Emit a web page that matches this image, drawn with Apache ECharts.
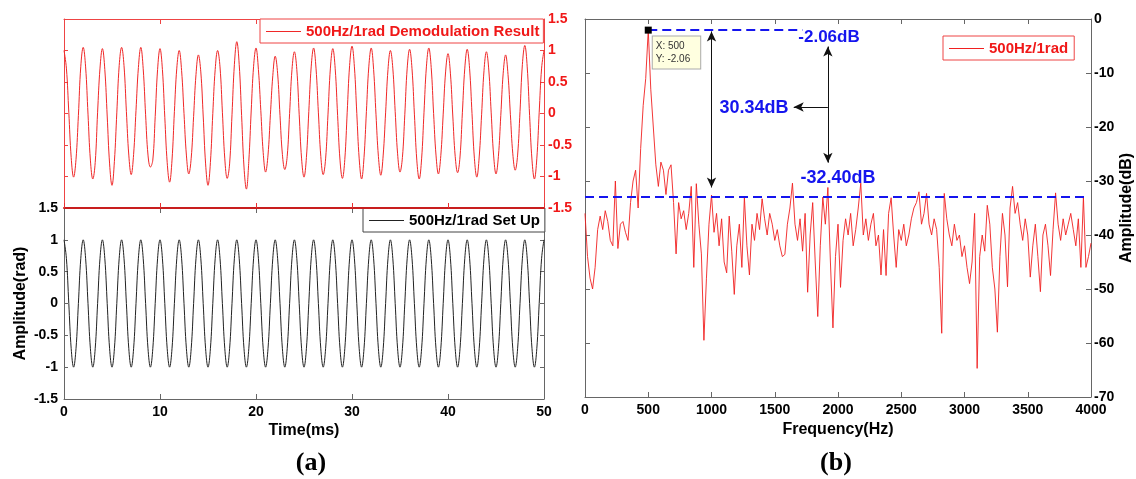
<!DOCTYPE html>
<html>
<head>
<meta charset="utf-8">
<script src="https://cdn.jsdelivr.net/npm/echarts/dist/echarts.min.js"></script>
<style>html,body{margin:0;padding:0;background:#fff}#c{width:1136px;height:479px}</style>
</head>
<body>
<div id="c"></div>
<script>
// ---- data ----
const TIME_STEP = 0.25; // ms between samples
const FREQ_STEP = 20;   // Hz between spectrum bins

// Demodulation result (rad), sampled every 0.25 ms, 0..50 ms
const demodulated = [
 1.00, 0.72, 0.02,-0.70,-1.01,-0.73,-0.03, 0.75,
 1.05, 0.74,-0.01,-0.74,-1.04,-0.78, 0.02, 0.72,
 1.03, 0.70,-0.04,-0.80,-1.14,-0.76, 0.01, 0.76,
 1.05, 0.76, 0.03,-0.66,-0.97,-0.65, 0.05, 0.73,
 1.05, 0.71,-0.02,-0.66,-0.85,-0.74,-0.05, 0.70,
 1.03, 0.70,-0.06,-0.78,-1.09,-0.74, 0.03, 0.72,
 1.00, 0.68, 0.00,-0.66,-0.96,-0.71,-0.05, 0.62,
 0.93, 0.66,-0.04,-0.80,-1.14,-0.78, 0.00, 0.70,
 1.00, 0.74, 0.02,-0.72,-1.03,-0.80,-0.02, 0.78,
 1.14, 0.78,-0.03,-0.85,-1.20,-0.76, 0.04, 0.75,
 1.04, 0.70, 0.05,-0.62,-0.93,-0.66,-0.02, 0.60,
 0.91, 0.64,-0.03,-0.65,-0.89,-0.68, 0.00, 0.70,
 0.98, 0.70,-0.02,-0.72,-1.01,-0.70, 0.03, 0.74,
 1.04, 0.72, 0.01,-0.68,-0.97,-0.72,-0.01, 0.72,
 1.03, 0.71,-0.03,-0.74,-1.03,-0.73, 0.02, 0.76,
 1.07, 0.74, 0.00,-0.72,-1.04,-0.70, 0.03, 0.74,
 1.04, 0.70,-0.02,-0.68,-0.98,-0.66, 0.01, 0.70,
 1.00, 0.72, 0.03,-0.64,-0.93,-0.70,-0.02, 0.72,
 1.02, 0.71,-0.01,-0.74,-1.04,-0.72, 0.02, 0.74,
 1.04, 0.73, 0.00,-0.66,-0.96,-0.67,-0.01, 0.66,
 0.95, 0.64,-0.04,-0.68,-0.94,-0.69, 0.02, 0.72,
 1.02, 0.71, 0.00,-0.71,-1.01,-0.69,-0.02, 0.68,
 0.98, 0.69, 0.01,-0.66,-0.96,-0.68,-0.03, 0.64,
 0.93, 0.62,-0.02,-0.64,-0.90,-0.66, 0.03, 0.78,
 1.08, 0.74,-0.03,-0.74,-1.04,-0.72, 0.02, 0.72,
 1.00
];

// Set-up signal (rad), sampled every 0.25 ms, 0..50 ms
const setUp = [
 1,0.71,0,-0.71,-1,-0.71,0,0.71, 1,0.71,0,-0.71,-1,-0.71,0,0.71,
 1,0.71,0,-0.71,-1,-0.71,0,0.71, 1,0.71,0,-0.71,-1,-0.71,0,0.71,
 1,0.71,0,-0.71,-1,-0.71,0,0.71, 1,0.71,0,-0.71,-1,-0.71,0,0.71,
 1,0.71,0,-0.71,-1,-0.71,0,0.71, 1,0.71,0,-0.71,-1,-0.71,0,0.71,
 1,0.71,0,-0.71,-1,-0.71,0,0.71, 1,0.71,0,-0.71,-1,-0.71,0,0.71,
 1,0.71,0,-0.71,-1,-0.71,0,0.71, 1,0.71,0,-0.71,-1,-0.71,0,0.71,
 1,0.71,0,-0.71,-1,-0.71,0,0.71, 1,0.71,0,-0.71,-1,-0.71,0,0.71,
 1,0.71,0,-0.71,-1,-0.71,0,0.71, 1,0.71,0,-0.71,-1,-0.71,0,0.71,
 1,0.71,0,-0.71,-1,-0.71,0,0.71, 1,0.71,0,-0.71,-1,-0.71,0,0.71,
 1,0.71,0,-0.71,-1,-0.71,0,0.71, 1,0.71,0,-0.71,-1,-0.71,0,0.71,
 1,0.71,0,-0.71,-1,-0.71,0,0.71, 1,0.71,0,-0.71,-1,-0.71,0,0.71,
 1,0.71,0,-0.71,-1,-0.71,0,0.71, 1,0.71,0,-0.71,-1,-0.71,0,0.71,
 1,0.71,0,-0.71,-1,-0.71,0,0.71,
 1
];

// Spectrum amplitude (dB), every 20 Hz, 0..4000 Hz
const spectrum = [
 -36,-44,-48,-50,-46,-39,-36.5,-39,-35.5,-37.5,
 -41,-42,-30,-42.5,-38,-37.5,-39.5,-41,-34,-30,
 -28,-35,-24,-16,-11,-2.06,-13,-20,-27,-31,
 -26.5,-28,-32.5,-28,-27,-34,-43.5,-34,-37,-35.5,
 -39,-36,-31,-46,-30.5,-38,-43.5,-59.5,-48,-38,
 -32.6,-39.5,-36,-42,-37,-45,-47,-36.5,-43,-51,
 -42,-38,-46,-33,-42,-47.4,-38,-41,-36,-39,
 -33.3,-37,-40,-36,-38,-41,-39,-42,-44,-43.6,
 -38,-35,-30.4,-38,-41,-37,-43,-36,-50.6,-40,
 -34,-45,-55.1,-42,-33,-38,-31.2,-45,-57.2,-44,
 -38,-49.7,-41,-37,-40,-36,-42,-39,-35,-30.4,
 -40,-37,-41,-38,-36,-42,-40,-47.4,-39,-47.5,
 -36,-33.1,-40,-46,-39,-41,-38,-42,-40,-37,
 -35,-34,-32,-38,-36,-32.3,-38,-40,-37,-39,
 -46,-58.2,-32.3,-37,-40,-42,-38,-41,-40,-44,
 -42,-46,-49,-45,-36,-64.7,-44,-40,-43,-34.5,
 -38,-46,-50,-58,-44,-36,-40,-49.6,-35,-31,
 -36,-34,-38,-41,-37,-40,-47.8,-42,-38,-44,
 -50.5,-40,-38,-42,-47.5,-39,-32.2,-38,-41,-37,
 -40,-38,-36,-39,-42,-37,-46,-33,-46,-44,
 -41.5
];

// annotations
const peakPoint = [500, -2.06];
const peakLevel = -2.06;
const noiseLevel = -32.9;
const peakLabel = '-2.06dB';
const noiseLabel = '-32.40dB';
const diffLabel = '30.34dB';

// ---- chart ----
const FONT = 'Liberation Sans';
const RED = '#f01818';
const AX = '#666';
const plain = (v) => String(v);
const lbl = (c, m) => ({fontFamily: FONT, fontWeight: 'bold', fontSize: 14, color: c || '#000', margin: m, formatter: plain});

const pairs = (arr, step) => arr.map((v, i) => [i * step, v]);

const noLabel = {show: false};
const noSplit = {show: false};
const line = (color, width) => ({onZero: false, lineStyle: {color: color, width: width || 1}});
const tick = (color, len) => ({inside: true, length: len || 5, lineStyle: {color: color}});
const legendText = (c) => ({fontFamily: FONT, fontWeight: 'bold', fontSize: 15, color: c, lineHeight: 15});

const chart = echarts.init(document.getElementById('c'), null, {renderer: 'canvas'});
chart.setOption({
  animation: false,
  backgroundColor: '#fff',
  grid: [
    {left: 64, top: 19, width: 480, height: 189},
    {left: 64, top: 208, width: 480, height: 191},
    {left: 585, top: 19, width: 506, height: 378}
  ],
  xAxis: [
    {gridIndex: 0, type: 'value', min: 0, max: 50, interval: 10, position: 'bottom',
     axisLine: line('#c81e1e', 2), axisTick: tick('#e83030'), axisLabel: noLabel, splitLine: noSplit, z: 5},
    {gridIndex: 0, type: 'value', min: 0, max: 50, interval: 10, position: 'top',
     axisLine: line('#ee4444'), axisTick: tick('#ee4444'), axisLabel: noLabel, splitLine: noSplit},
    {gridIndex: 1, type: 'value', min: 0, max: 50, interval: 10, position: 'bottom',
     axisLine: line(AX), axisTick: tick(AX), axisLabel: lbl('#000', 6), splitLine: noSplit,
     name: 'Time(ms)', nameLocation: 'middle', nameGap: 24,
     nameTextStyle: {fontFamily: FONT, fontWeight: 'bold', fontSize: 16, color: '#000'}},
    {gridIndex: 1, type: 'value', min: 0, max: 50, interval: 10, position: 'top',
     axisLine: {show: false, onZero: false}, axisTick: tick(AX), axisLabel: noLabel, splitLine: noSplit},
    {gridIndex: 2, type: 'value', min: 0, max: 4000, interval: 500, position: 'bottom',
     axisLine: line(AX), axisTick: tick(AX), axisLabel: lbl('#000', 6), splitLine: noSplit,
     name: 'Frequency(Hz)', nameLocation: 'middle', nameGap: 24,
     nameTextStyle: {fontFamily: FONT, fontWeight: 'bold', fontSize: 16, color: '#000'}},
    {gridIndex: 2, type: 'value', min: 0, max: 4000, interval: 500, position: 'top',
     axisLine: line(AX), axisTick: tick(AX), axisLabel: noLabel, splitLine: noSplit}
  ],
  yAxis: [
    {gridIndex: 0, type: 'value', min: -1.5, max: 1.5, interval: 0.5, position: 'right',
     axisLine: line('#ee4444'), axisTick: tick('#ee4444', 4), axisLabel: lbl(RED, 4), splitLine: noSplit},
    {gridIndex: 0, type: 'value', min: -1.5, max: 1.5, interval: 0.5, position: 'left',
     axisLine: line('#ee4444'), axisTick: tick('#ee4444', 4), axisLabel: noLabel, splitLine: noSplit},
    {gridIndex: 1, type: 'value', min: -1.5, max: 1.5, interval: 0.5, position: 'left',
     axisLine: line(AX), axisTick: tick(AX, 4), axisLabel: lbl('#000', 6), splitLine: noSplit,
     name: 'Amplitude(rad)', nameLocation: 'middle', nameGap: 35, nameRotate: 90,
     nameTextStyle: {fontFamily: FONT, fontWeight: 'bold', fontSize: 16, color: '#000'}},
    {gridIndex: 1, type: 'value', min: -1.5, max: 1.5, interval: 0.5, position: 'right',
     axisLine: line(AX), axisTick: tick(AX, 4), axisLabel: noLabel, splitLine: noSplit},
    {gridIndex: 2, type: 'value', min: -70, max: 0, interval: 10, position: 'right',
     axisLine: line(AX), axisTick: tick(AX), axisLabel: lbl('#000', 3), splitLine: noSplit,
     name: 'Amplitude(dB)', nameLocation: 'middle', nameGap: 26, nameRotate: 90,
     nameTextStyle: {fontFamily: FONT, fontWeight: 'bold', fontSize: 16, color: '#000'}},
    {gridIndex: 2, type: 'value', min: -70, max: 0, interval: 10, position: 'left',
     axisLine: line(AX), axisTick: tick(AX), axisLabel: noLabel, splitLine: noSplit}
  ],
  legend: [
    {data: [{name: '500Hz/1rad Demodulation Result', icon: 'rect'}], left: 260, top: 19, padding: [5, 4, 4, 6],
     itemWidth: 35, itemHeight: 1, borderColor: '#ee4444', borderWidth: 1, backgroundColor: '#fff',
     selectedMode: false, textStyle: legendText(RED)},
    {data: [{name: '500Hz/1rad Set Up', icon: 'rect'}], left: 363, top: 208, padding: [5, 5, 4, 6],
     itemWidth: 35, itemHeight: 1, borderColor: '#444', borderWidth: 1, backgroundColor: '#fff',
     selectedMode: false, textStyle: legendText('#000')},
    {data: [{name: '500Hz/1rad', icon: 'rect'}], left: 943, top: 36, padding: [5, 6, 4, 6],
     itemWidth: 35, itemHeight: 1, borderColor: '#ee4444', borderWidth: 1, backgroundColor: '#fff',
     selectedMode: false, textStyle: legendText(RED)}
  ],
  series: [
    {name: '500Hz/1rad Demodulation Result', type: 'line', xAxisIndex: 0, yAxisIndex: 0,
     data: pairs(demodulated, TIME_STEP), symbol: 'none', smooth: 0.4,
     lineStyle: {color: '#f02828', width: 1}, itemStyle: {color: '#f02828'}},
    {name: '500Hz/1rad Set Up', type: 'line', xAxisIndex: 2, yAxisIndex: 2,
     data: pairs(setUp, TIME_STEP), symbol: 'none', smooth: 0.4,
     lineStyle: {color: '#222', width: 1}, itemStyle: {color: '#222'}},
    {name: '500Hz/1rad', type: 'line', xAxisIndex: 4, yAxisIndex: 4,
     data: pairs(spectrum, FREQ_STEP), symbol: 'none',
     lineStyle: {color: '#f02020', width: 0.9}, itemStyle: {color: '#f02020'},
     markLine: {
       silent: true, animation: false, symbol: ['none', 'none'],
       label: {show: false},
       data: [
         [{coord: [peakPoint[0], peakLevel], lineStyle: {color: '#1515ee', width: 2, type: [9, 5]}},
          {coord: [1720, peakLevel]}],
         [{coord: [0, noiseLevel], lineStyle: {color: '#1515ee', width: 2, type: [9, 5]}},
          {coord: [3960, noiseLevel]}],
         [{coord: [1000, -2.3], symbol: 'arrow', symbolSize: [7, 10], lineStyle: {color: '#111', width: 1, type: 'solid'}},
          {coord: [1000, -31.2], symbol: 'arrow', symbolSize: [7, 10]}],
         [{coord: [1920, -5.1], symbol: 'arrow', symbolSize: [7, 10], lineStyle: {color: '#111', width: 1, type: 'solid'}},
          {coord: [1920, -26.6], symbol: 'arrow', symbolSize: [7, 10]}],
         [{coord: [1920, -16.3], symbol: 'none', lineStyle: {color: '#111', width: 1, type: 'solid'}},
          {coord: [1650, -16.3], symbol: 'arrow', symbolSize: [7, 10]}]
       ]
     },
     markPoint: {
       silent: true, animation: false,
       data: [
         {coord: peakPoint, symbol: 'rect', symbolSize: 7, itemStyle: {color: '#000'},
          label: {show: true, position: [8, 10], formatter: 'X: 500\nY: -2.06',
                  fontFamily: FONT, fontSize: 10, color: '#333', lineHeight: 13,
                  backgroundColor: '#ffffe0', borderColor: '#aaa', borderWidth: 1, padding: [3, 10, 3, 3]}},
         {coord: [1929, -3.33], symbol: 'circle', symbolSize: 0,
          label: {show: true, position: 'inside', formatter: peakLabel, fontFamily: FONT, fontWeight: 'bold', fontSize: 17, color: '#1515ee'}},
         {coord: [1336, -16.5], symbol: 'circle', symbolSize: 0,
          label: {show: true, position: 'inside', formatter: diffLabel, fontFamily: FONT, fontWeight: 'bold', fontSize: 18, color: '#1515ee'}},
         {coord: [2000, -29.4], symbol: 'circle', symbolSize: 0,
          label: {show: true, position: 'inside', formatter: noiseLabel, fontFamily: FONT, fontWeight: 'bold', fontSize: 18, color: '#1515ee'}}
       ]
     }}
  ],
  graphic: [
    {type: 'text', x: 311, y: 463, style: {text: '(a)', font: 'bold 26px "Liberation Serif"', fill: '#000', align: 'center', verticalAlign: 'middle'}},
    {type: 'text', x: 836, y: 463, style: {text: '(b)', font: 'bold 26px "Liberation Serif"', fill: '#000', align: 'center', verticalAlign: 'middle'}}
  ]
});
</script>
</body>
</html>
